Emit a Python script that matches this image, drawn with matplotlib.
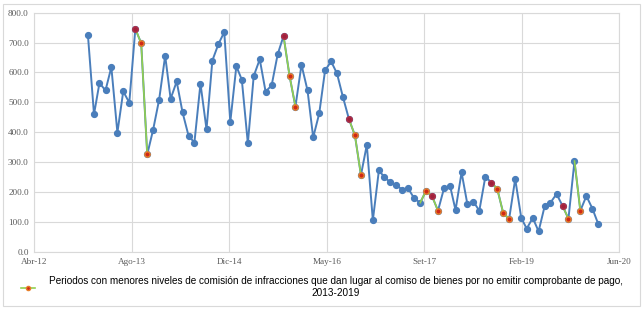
import datetime as dt

import matplotlib
matplotlib.use('Agg')
import matplotlib.pyplot as plt
import matplotlib.patches as patches
import pandas as pd

# serie mensual, ene-2013 a mar-2020
fecha_inicio = '2013-01-01'
valores = [724, 460, 565, 540, 618, 399, 537, 499, 746, 698, 326, 408,
           509, 656, 512, 570, 467, 388, 366, 563, 410, 640, 695, 735,
           435, 621, 576, 363, 588, 644, 536, 557, 661, 722, 588, 486,
           626, 540, 383, 463, 607, 637, 597, 517, 443, 390, 257, 358,
           106, 273, 250, 233, 224, 208, 213, 179, 165, 205, 186, 138,
           213, 221, 140, 266, 159, 168, 138, 252, 232, 211, 129, 111,
           244, 114, 78, 114, 69, 153, 165, 194, 154, 111, 304, 138,
           187, 145, 95]

# tramos con menor nivel de infracciones (indices, inclusive)
tramos = [(8, 10), (33, 35), (44, 46), (56, 59), (68, 71), (80, 81), (82, 83)]
puntos_pico = [8, 33, 44, 58, 68, 80]
puntos_bajos = [9, 10, 34, 35, 45, 46, 57, 59, 69, 70, 71, 81, 83]

etiquetas_x = ['Abr-12', 'Ago-13', 'Dic-14', 'May-16', 'Set-17', 'Feb-19', 'Jun-20']
etiquetas_y = [0, 100, 200, 300, 400, 500, 600, 700, 800]

leyenda = ('Periodos con menores niveles de comisión de infracciones que dan lugar '
           'al comiso de bienes por no emitir comprobante de pago,\n2013-2019')

AZUL = '#4a7ebb'
VERDE = '#92d050'
GRIS = '#d9d9d9'


def main():
    fechas = pd.date_range(fecha_inicio, periods=len(valores), freq='MS')
    serie = pd.Series(valores, index=fechas)

    fig = plt.figure(figsize=(6.44, 3.09), dpi=100)
    fig.patches.append(patches.Rectangle((3 / 644, 3 / 309), 637 / 644, 302 / 309,
                                         transform=fig.transFigure, fill=False,
                                         edgecolor=GRIS, linewidth=0.8))
    ax = fig.add_axes([0.0533, 0.1845, 0.9084, 0.7745])

    ax.plot(serie.index, serie.values, color=AZUL, linewidth=1.4,
            marker='o', markersize=4.2, markerfacecolor=AZUL, markeredgecolor=AZUL,
            zorder=3)

    for ini, fin in tramos:
        tramo = serie.iloc[ini:fin + 1]
        ax.plot(tramo.index, tramo.values, color=VERDE, linewidth=1.2, zorder=4)

    pico = serie.iloc[puntos_pico]
    ax.plot(pico.index, pico.values, linestyle='none', marker='o', markersize=4.0,
            markerfacecolor='#a0203c', markeredgecolor='#b03048', zorder=5)
    bajos = serie.iloc[puntos_bajos]
    ax.plot(bajos.index, bajos.values, linestyle='none', marker='o', markersize=3.8,
            markerfacecolor='#d02818', markeredgecolor='#e8802a', zorder=5)

    # eje x como en Excel: cada 500 dias desde 01/04/2012
    origen = dt.datetime(2012, 4, 1)
    ticks_x = [origen + dt.timedelta(days=500 * i) for i in range(len(etiquetas_x))]
    ax.set_xlim(ticks_x[0], ticks_x[-1])
    ax.set_xticks(ticks_x)
    ax.set_xticklabels(etiquetas_x)
    ax.set_ylim(0, 800)
    ax.set_yticks(etiquetas_y)
    ax.set_yticklabels([f'{v:.1f}' for v in etiquetas_y])

    ax.grid(True, color=GRIS, linewidth=0.8)
    ax.set_axisbelow(True)
    for lado in ax.spines.values():
        lado.set_color(GRIS)
        lado.set_linewidth(0.8)
    ax.tick_params(length=0, pad=4, labelsize=6.6, labelcolor='#595959')
    for t in ax.get_xticklabels() + ax.get_yticklabels():
        t.set_family('Liberation Serif')

    # leyenda: linea verde con marcador
    marca, = ax.plot([], [], color=VERDE, linewidth=1.2, marker='o', markersize=3,
                     markerfacecolor='#d02818', markeredgecolor='#e8802a')
    ley = fig.legend([marca], [leyenda], loc='center', bbox_to_anchor=(0.5, 1 - 287 / 309),
                     frameon=False, handlelength=1.4, handletextpad=1.4,
                     prop={'family': 'Liberation Sans', 'size': 7.2})
    ley.get_texts()[0].set_multialignment('center')

    fig.savefig('out.png', dpi=100)


if __name__ == "__main__":
    main()
